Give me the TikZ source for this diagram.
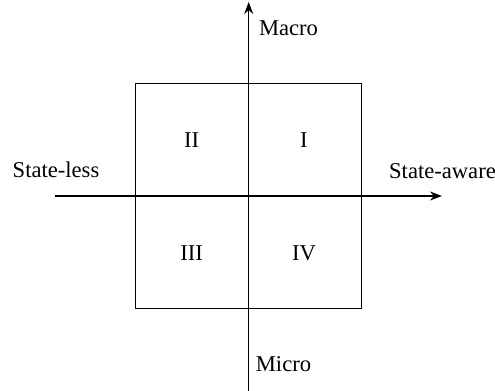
\documentclass[tikz,border=0pt]{standalone}
\usepackage{fontspec}
\setmainfont{Liberation Serif}
\usetikzlibrary{arrows.meta}
\begin{document}
\begin{tikzpicture}[x=0.5pt,y=-0.5pt,
  axis/.style={line width=0.75pt,-{Stealth[length=6pt,width=4.5pt]}},
  lbl/.style={anchor=base,inner sep=0pt,font=\fontsize{11.3}{13}\selectfont},
  quad/.style={draw,line width=0.75pt,minimum width=113pt,minimum height=112.7pt,inner sep=0pt}]
\useasboundingbox (0,0) rectangle (495,391);
\node[quad] (box) at (248.7,196) {};
\coordinate (vtop) at (248.7,2);
\coordinate (vbot) at (248.7,391);
\coordinate (hl) at (55,196);
\coordinate (hr) at (442,196);
\draw[axis] (vbot) -- (vtop);
\draw[axis] (hl) -- (hr);
\node[lbl] (macro) at (288.5,35) {Macro};
\node[lbl] (micro) at (283.5,372) {Micro};
\node[lbl] (aware) at (442.5,179) {State-aware};
\node[lbl] (less) at (56,178) {State-less};
\node[lbl] (q1) at (304,148) {I};
\node[lbl] (q2) at (191.7,148) {II};
\node[lbl] (q3) at (191.7,261) {III};
\node[lbl] (q4) at (304,261) {IV};
\end{tikzpicture}
\end{document}
